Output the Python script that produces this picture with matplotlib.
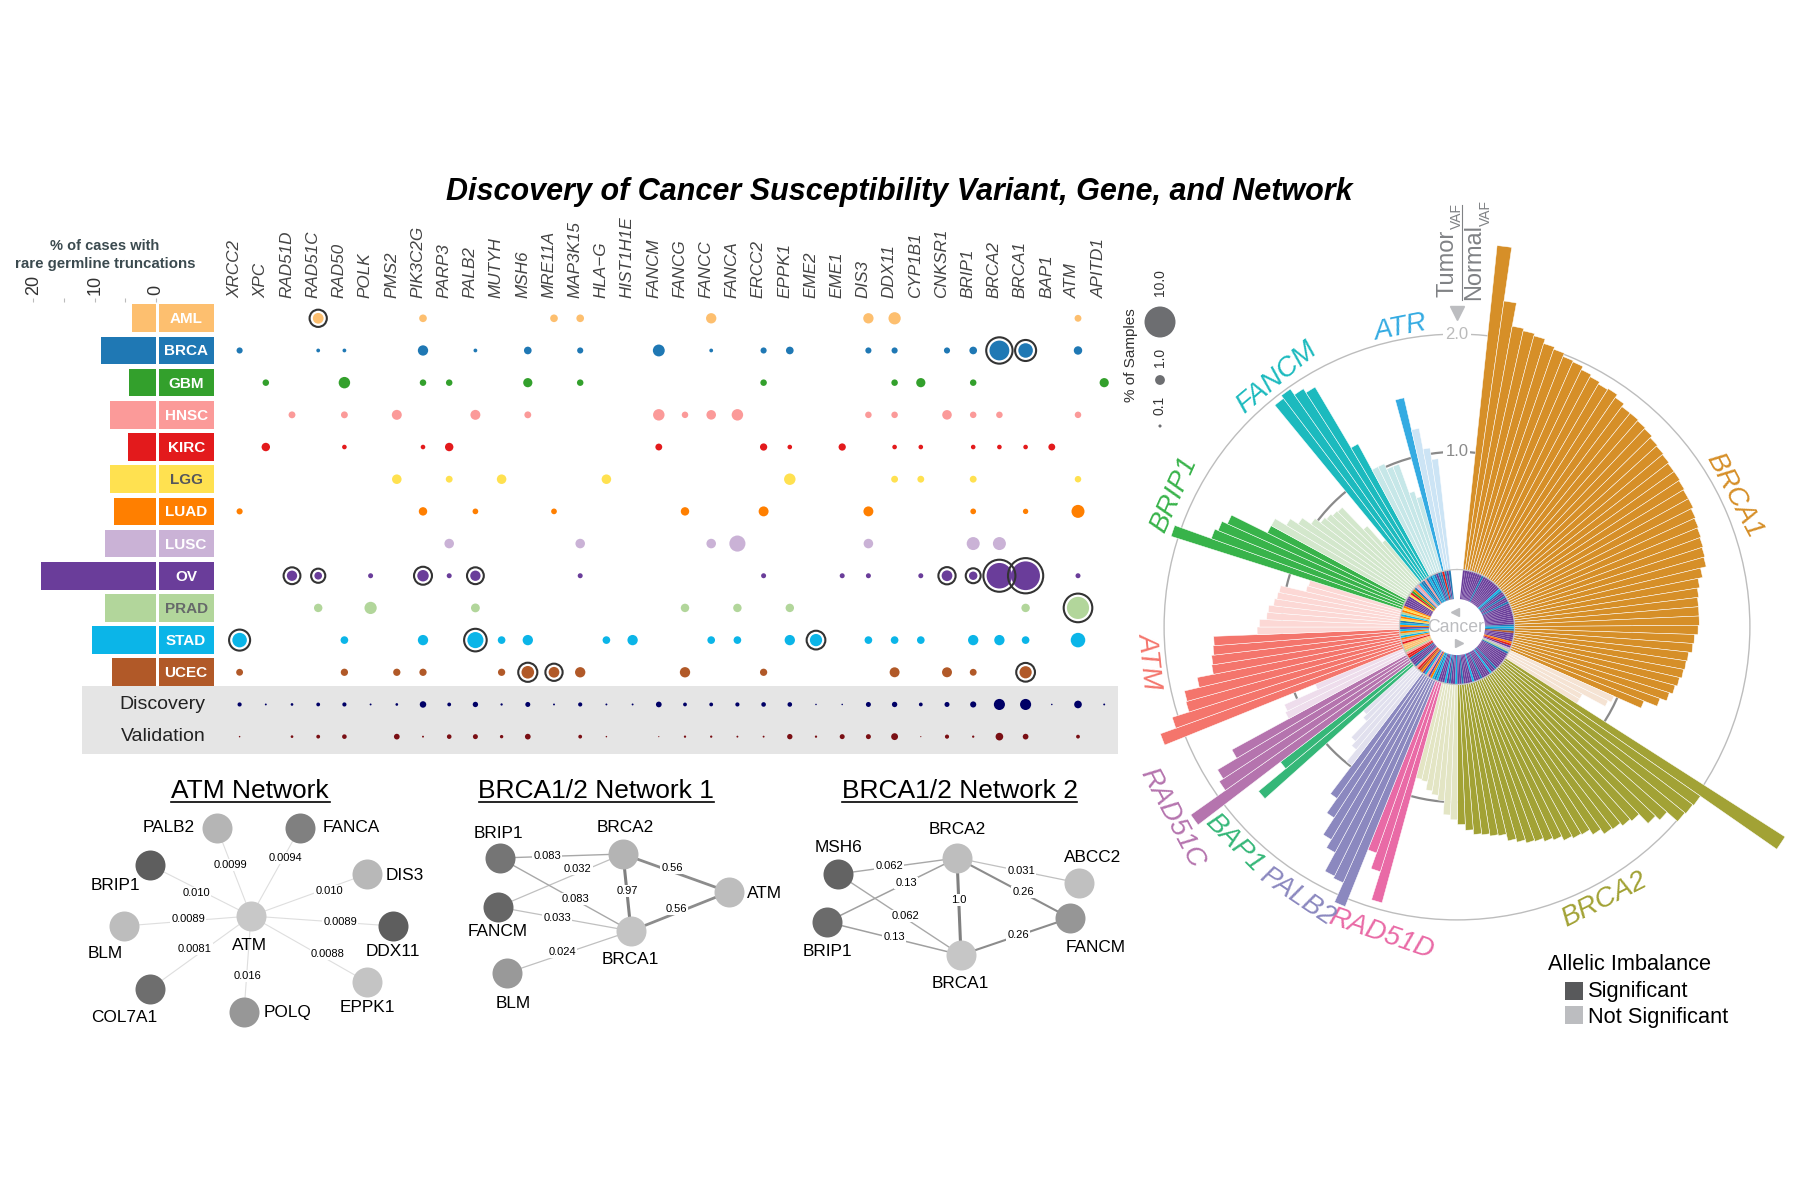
import numpy as np
import matplotlib
matplotlib.use('Agg')
import matplotlib.pyplot as plt

plt.rcParams['font.family'] = ['Liberation Sans', 'DejaVu Sans']

W = 1795; H = 1201

# ---------- data: cancer types ----------
cancers = ['AML', 'BRCA', 'GBM', 'HNSC', 'KIRC', 'LGG', 'LUAD', 'LUSC', 'OV', 'PRAD', 'STAD', 'UCEC']
truncations = [3.9, 8.9, 4.4, 7.5, 4.6, 7.5, 6.8, 8.3, 18.8, 8.3, 10.5, 7.2]
cancer_colors = ['#FDBF6F', '#1F78B4', '#33A02C', '#FB9A99', '#E31A1C', '#FFE150',
                 '#FF7F00', '#CAB2D6', '#6A3D9A', '#B2D69B', '#0BB5E8', '#B15928']
label_colors = ['white', 'white', 'white', 'white', 'white', '#55565C',
                'white', 'white', 'white', '#66696A', 'white', 'white']

genes = ['XRCC2', 'XPC', 'RAD51D', 'RAD51C', 'RAD50', 'POLK', 'PMS2', 'PIK3C2G', 'PARP3', 'PALB2',
         'MUTYH', 'MSH6', 'MRE11A', 'MAP3K15', 'HLA\u2212G', 'HIST1H1E', 'FANCM', 'FANCG', 'FANCC',
         'FANCA', 'ERCC2', 'EPPK1', 'EME2', 'EME1', 'DIS3', 'DDX11', 'CYP1B1', 'CNKSR1', 'BRIP1',
         'BRCA2', 'BRCA1', 'BAP1', 'ATM', 'APITD1']

# % of samples per gene (column index)
pct_aml = {3: 1.2, 7: .61, 12: .61, 13: .61, 18: 1.11, 24: 1.11, 25: 1.56, 32: .49}
pct_brca = {0: .39, 3: .15, 4: .15, 7: 1.11, 9: .15, 11: .61, 13: .39, 16: 1.47, 18: .15, 20: .39, 21: .61,
            24: .39, 25: .39, 27: .39, 28: .61, 29: 4.1, 30: 2.2, 32: .74}
pct_gbm = {1: .44, 4: 1.37, 7: .44, 8: .44, 11: .88, 13: .44, 20: .44, 25: .44, 26: .88, 28: .44, 33: .88}
pct_hnsc = {2: .49, 4: .49, 6: 1.03, 9: 1.03, 11: .49, 16: 1.37, 17: .44, 18: .95, 19: 1.37, 24: .44, 25: .44,
            27: .95, 28: .44, 29: .44, 32: .44}
pct_kirc = {1: .74, 4: .22, 7: .22, 8: .74, 16: .49, 20: .55, 21: .22, 23: .55, 25: .22, 26: .22, 28: .22,
            29: .22, 30: .22, 31: .49}
pct_lgg = {6: .95, 8: .49, 10: .95, 14: .95, 21: 1.37, 25: .49, 26: .49, 28: .49, 32: .44}
pct_luad = {0: .39, 7: .74, 9: .34, 12: .34, 17: .74, 20: 1.03, 24: 1.03, 28: .34, 30: .30, 32: 1.76}
pct_lusc = {8: .95, 13: .95, 18: .95, 19: 2.7, 24: .95, 28: 1.76, 29: 1.76}
pct_ov = {2: 1.11, 3: .61, 5: .26, 7: 1.37, 8: .26, 9: 1.11, 13: .26, 20: .26, 23: .26, 24: .26, 26: .26,
          27: 1.2, 28: .74, 29: 6.8, 30: 8.6, 32: .26}
pct_prad = {3: .74, 5: 1.56, 9: .81, 17: .74, 19: .74, 21: .74, 30: .74, 32: 5.1}
pct_stad = {0: 2.2, 4: .61, 7: 1.11, 9: 2.7, 10: .61, 11: 1.11, 14: .61, 15: 1.11, 18: .61, 19: .61, 21: 1.11,
            22: 1.56, 24: .61, 25: .61, 26: .61, 28: 1.11, 29: 1.11, 30: .61, 32: 2.2}
pct_ucec = {0: .49, 4: .55, 6: .55, 7: .55, 10: .55, 11: 1.66, 12: 1.2, 13: 1.11, 17: 1.11, 20: .55, 25: 1.03,
            27: 1.03, 28: .49, 30: 1.56}
pct_rows = [pct_aml, pct_brca, pct_gbm, pct_hnsc, pct_kirc, pct_lgg, pct_luad, pct_lusc, pct_ov, pct_prad,
            pct_stad, pct_ucec]

# columns that carry the black ring in each row
ringed = {'AML': [3], 'BRCA': [29, 30], 'OV': [2, 3, 7, 9, 27, 28, 29, 30], 'PRAD': [32],
          'STAD': [0, 9, 22], 'UCEC': [11, 12, 30]}

pct_discovery = [.18, .038, .075, .15, .18, .038, .075, .44, .15, .30, .055, .26, .038, .18, .038, .038, .34,
                 .15, .15, .18, .22, .22, .024, .024, .26, .30, .15, .26, .39, 1.28, 1.28, .024, .61, .038]
pct_validation = [.024, 0, .075, .15, .22, 0, .34, .038, .22, .26, .12, .34, 0, .15, .024, 0, .014, .055, .055,
                  .038, .038, .30, .055, .26, .26, .49, .014, .18, .055, .61, .34, 0, .15, 0]

# ---------- data: tumor/normal VAF ratio fan, clockwise from the top ----------
brca1_sig = [2.77, 2.31, 2.11, 2.09, 2.07, 2.03, 2.01, 1.98, 1.97, 1.94, 1.92, 1.90, 1.91, 1.88, 1.85, 1.85, 1.84,
             1.83, 1.81, 1.80, 1.79, 1.78, 1.78, 1.77, 1.76, 1.76, 1.74, 1.73, 1.72, 1.71, 1.70, 1.69, 1.64, 1.60,
             1.58, 1.57, 1.57, 1.57, 1.56, 1.53, 1.52, 1.49, 1.48, 1.47, 1.45, 1.43, 1.40, 1.34, 1.22]
brca1_ns = [.97, .94, .72, .72]
brca2_sig = [2.82, 2.03, 2.02, 2.01, 1.89, 1.84, 1.73, 1.71, 1.68, 1.67, 1.62, 1.57, 1.56, 1.54, 1.50, 1.48, 1.45,
             1.44, 1.41, 1.38, 1.32, 1.31, 1.29, 1.28, 1.24, 1.19]
brca2_ns = [1.15, 1.11, .99, .95, .92, .85, .84]
rad51d_sig = [1.94, 1.69, 1.55]
palb2_sig = [2.07, 1.89, 1.87, 1.69, 1.61, 1.44, 1.29]
palb2_ns = [.99, .86, .81, .62, .58]
bap1_sig = [1.70, 1.40]
rad51c_sig = [2.28, 1.92, 1.88, 1.69]
rad51c_ns = [1.14, 1.12, .81]
atm_sig = [2.19, 2.05, 1.90, 1.89, 1.76, 1.62, 1.61, 1.59, 1.58]
atm_ns = [1.21, 1.19, 1.13, 1.12, 1.08, 1.06, 1.05, .83, .82]
brip1_sig = [2.06, 1.73, 1.70, 1.65, 1.31]
brip1_ns = [1.31, 1.20, 1.12, 1.03, .97, .95, .93, .92, .66, .47]
fancm_sig = [1.95, 1.98, 1.92, 1.88, 1.28]
fancm_ns = [1.03, 1.03, .98, .98, .72, .66]
atr_sig = [1.51]
atr_ns = [1.23, 1.05, .95]

fan_values = [brca1_sig, brca1_ns, brca2_sig, brca2_ns, rad51d_sig, palb2_sig, palb2_ns, bap1_sig, rad51c_sig,
              rad51c_ns, atm_sig, atm_ns, brip1_sig, brip1_ns, fancm_sig, fancm_ns, atr_sig, atr_ns]
fan_colors = ['#D68F28', '#F5E3D3', '#A2A235', '#E3E5C4', '#E96AA6', '#8B88BF', '#E1E0EE', '#35B778', '#B574AE',
              '#EEDDEC', '#F4756C', '#FCD8D5', '#38B34A', '#D3E7CC', '#1CBABE', '#C6E7E8', '#34ABE2', '#CCE4F5']
# cancer of each sample in the inner ring, one letter per bar
ring_codes = ['OOOOOOOOOBOOOOOOOOOSBOOBOOBOOOOOOOOOOBSBUOOOOLKOC', 'PBOO',
              'OOOOOOBOOSOOOOBOOOSOOOOBOO', 'SOOBOSO', 'OOS', 'BSLOHSO', 'LUKHB', 'OO', 'OBKK', 'HPA',
              'AAKHLSPLS', 'OLSBYLSPL', 'YLOOO', 'OOYKGLBCHS', 'BBHBS', 'BSBOBB', 'K', 'BOB']
ring_letters = {'A': 'AML', 'B': 'BRCA', 'G': 'GBM', 'H': 'HNSC', 'K': 'KIRC', 'Y': 'LGG', 'L': 'LUAD',
                'C': 'LUSC', 'O': 'OV', 'P': 'PRAD', 'S': 'STAD', 'U': 'UCEC'}

# gene label around the fan: name, colour, x, y, rotation
fan_labels = [('BRCA1', '#D68F28', 1734, 495, -62), ('BRCA2', '#A2A235', 1604, 900, 27),
              ('RAD51D', '#E96AA6', 1381, 934, -19), ('PALB2', '#8B88BF', 1297, 897, -34),
              ('BAP1', '#35B778', 1234, 843, -45), ('RAD51C', '#B574AE', 1172, 818, -62),
              ('ATM', '#F4756C', 1149, 660, -84), ('BRIP1', '#38B34A', 1174, 495, 66),
              ('FANCM', '#1CBABE', 1277, 378, 40), ('ATR', '#34ABE2', 1400, 328, 11)]

# ---------- data: networks ----------
atm_nodes = {'PALB2': (217, 828, '#B5B5B5', 169, 828), 'FANCA': (300, 828, '#808080', 351, 828),
             'BRIP1': (150, 865, '#5E5E5E', 115, 886), 'DIS3': (367, 874, '#B8B8B8', 405, 875),
             'BLM': (124, 926, '#BDBDBD', 105, 954), 'ATM': (251, 916, '#C8C8C8', 249, 945),
             'DDX11': (393, 926, '#5E5E5E', 393, 952), 'COL7A1': (150, 989, '#6E6E6E', 124, 1017),
             'POLQ': (244, 1012, '#979797', 288, 1013), 'EPPK1': (367, 982, '#C4C4C4', 367, 1008)}
atm_edges = [('PALB2', 'ATM', '0.0099', 230, 865), ('FANCA', 'ATM', '0.0094', 285, 858),
             ('BRIP1', 'ATM', '0.010', 196, 893), ('DIS3', 'ATM', '0.010', 329, 891),
             ('BLM', 'ATM', '0.0089', 188, 919), ('DDX11', 'ATM', '0.0089', 340, 922),
             ('COL7A1', 'ATM', '0.0081', 195, 949), ('EPPK1', 'ATM', '0.0088', 328, 954),
             ('POLQ', 'ATM', '0.016', 248, 976)]
net1_nodes = {'BRIP1': (500, 858, '#757575', 498, 833), 'FANCM': (498, 907, '#666666', 498, 932),
              'BLM': (507, 973, '#999999', 513, 1003), 'BRCA2': (623, 854, '#B4B4B4', 625, 827),
              'ATM': (729, 892, '#BDBDBD', 764, 894), 'BRCA1': (631, 931, '#C4C4C4', 630, 960)}
net1_edges = [('BRIP1', 'BRCA2', '0.083', 547, 856), ('FANCM', 'BRCA2', '0.032', 578, 869),
              ('BRIP1', 'BRCA1', '0.083', 575, 899), ('FANCM', 'BRCA1', '0.033', 557, 918),
              ('BLM', 'BRCA1', '0.024', 562, 952), ('BRCA2', 'BRCA1', '0.97', 627, 891),
              ('BRCA2', 'ATM', '0.56', 672, 868), ('BRCA1', 'ATM', '0.56', 676, 909)]
net2_nodes = {'MSH6': (838, 874, '#636363', 838, 847), 'BRCA2': (957, 858, '#BEBEBE', 957, 830),
              'ABCC2': (1079, 883, '#C0C0C0', 1093, 858), 'BRIP1': (827, 922, '#6B6B6B', 827, 952),
              'FANCM': (1070, 918, '#969696', 1096, 948), 'BRCA1': (961, 955, '#C6C6C6', 960, 983)}
net2_edges = [('MSH6', 'BRCA2', '0.062', 889, 866), ('BRIP1', 'BRCA2', '0.13', 906, 883),
              ('MSH6', 'BRCA1', '0.062', 905, 916), ('BRIP1', 'BRCA1', '0.13', 894, 937),
              ('BRCA2', 'BRCA1', '1.0', 959, 900), ('BRCA2', 'ABCC2', '0.031', 1021, 871),
              ('BRCA2', 'FANCM', '0.26', 1023, 892), ('BRCA1', 'FANCM', '0.26', 1018, 935)]


def px_axes(left, top, right, bottom, **kw):
	return fig.add_axes([left / W, 1 - bottom / H, (right - left) / W, (bottom - top) / H], **kw)


def dot_size(pct):
	# diameter is 9.8 px for 1 %, area grows with the percentage
	return (9.8 * 0.72) ** 2 * np.asarray(pct)


fig = plt.figure(figsize=(W / 100, H / 100), dpi=100)

# ---------- fan chart ----------
cx = 1457; cy = 627; unit = 117.7
r_zero = 57.5 / unit
r_max = 3.0
R = (r_zero + r_max) * unit
polar = px_axes(cx - R, cy - R, cx + R, cy + R, projection='polar')
polar.patch.set_alpha(0)
polar.set_theta_zero_location('N')
polar.set_theta_direction(-1)
polar.set_ylim(-r_zero, r_max)
polar.spines['polar'].set_visible(False)
polar.set_xticks([])
polar.set_yticks([1, 2])
polar.set_yticklabels([])
polar.tick_params(axis='y', length=0)
polar.set_axisbelow(True)
polar.yaxis.grid(True)
polar.yaxis.get_gridlines()[0].set(color='#8A8A8A', linewidth=1.6)
polar.yaxis.get_gridlines()[1].set(color='#BDBDBD', linewidth=1.0)

step = np.deg2rad(2.2)
start = np.deg2rad(6.0)
i = 0
for values, color, codes in zip(fan_values, fan_colors, ring_codes):
	n = len(values)
	theta = start + step * (i + np.arange(n) + 0.5)
	polar.bar(theta, values, width=step, color=color, edgecolor='white', linewidth=0.35, zorder=3)
	codes = (codes + 'O' * n)[:n]
	ring = [cancer_colors[cancers.index(ring_letters[c])] for c in codes]
	polar.bar(theta, [0.25] * n, width=step, bottom=-0.25, color=ring, edgecolor='#FFFFFF33', linewidth=0.25, zorder=3)
	i += n
ring_theta = np.linspace(0, 2 * np.pi, 361)
polar.plot(ring_theta, np.zeros(361), color='#C4C4C4', linewidth=0.9, zorder=4)
polar.text(0, 2, '2.0', color='#BBBBBB', fontsize=12, ha='center', va='center', zorder=5,
           bbox=dict(facecolor='white', edgecolor='none', pad=1.5))
polar.text(0, 1, '1.0', color='#8A8A8A', fontsize=12, ha='center', va='center', zorder=5,
           bbox=dict(facecolor='white', edgecolor='none', pad=1.5))

# ---------- bars and cancer boxes ----------
row_top = 318.3; row_h = 32.18
mat_top = 302; mat_bottom = 754.3
ylim = ((mat_bottom - row_top) / row_h, (mat_top - row_top) / row_h)
ypos = np.arange(len(cancers))

bar_ax = px_axes(33.3, mat_top, 213.5, mat_bottom)
bar_ax.patch.set_alpha(0)
bar_ax.set_xlim(20, -9.38)
bar_ax.set_ylim(*ylim)
bar_ax.barh(ypos, truncations, height=0.86, color=cancer_colors)
bar_ax.barh(ypos, [8.92] * len(cancers), left=-9.38, height=0.86, color=cancer_colors)
for y, name, c in zip(ypos, cancers, label_colors):
	bar_ax.text(-4.92, y + 0.03, name, color=c, fontsize=11, fontweight='bold', ha='center', va='center')
for s in bar_ax.spines.values():
	s.set_visible(False)
bar_ax.xaxis.tick_top()
bar_ax.set_xticks([0, 5, 10, 15, 20])
bar_ax.set_xticklabels(['0', '', '10', '', '20'], rotation=90, fontsize=13, color='#333333')
bar_ax.tick_params(axis='x', length=3, width=0.8, color='#BBBBBB', pad=2)
bar_ax.set_yticks([])

# ---------- dot matrix ----------
col0 = 239.6; col_w = 26.2
mat = px_axes(82, mat_top, 1117.7, mat_bottom)
mat.patch.set_alpha(0)
mat.set_xlim((82 - col0) / col_w, (1117.7 - col0) / col_w)
mat.set_ylim(*ylim)
mat.axis('off')
mat.axhspan(11.43, ylim[0], color='#E5E5E5', linewidth=0, zorder=0)

for y, (row, name, color) in enumerate(zip(pct_rows, cancers, cancer_colors)):
	cols = list(row.keys())
	pcts = list(row.values())
	mat.scatter(cols, [y] * len(cols), s=dot_size(pcts), color=color, linewidths=0, zorder=3, clip_on=False)
	for c in ringed.get(name, []):
		d = 9.8 * np.sqrt(row[c]) + 6.5
		mat.scatter([c], [y], s=(d * 0.72) ** 2, facecolor='none', edgecolor='#333333', linewidths=1.5, zorder=4,
		            clip_on=False)

cols = np.arange(len(genes))
mat.scatter(cols, [12] * len(cols), s=dot_size(pct_discovery), color='#000066', linewidths=0, zorder=3)
mat.scatter(cols, [13] * len(cols), s=dot_size(pct_validation), color='#7A0F14', linewidths=0, zorder=3)
mat.text(-1.3, 12, 'Discovery', fontsize=14, color='#222222', ha='right', va='center')
mat.text(-1.3, 13, 'Validation', fontsize=14, color='#222222', ha='right', va='center')
for c, g in zip(cols, genes):
	mat.text(c - 0.2, -0.63, g, rotation=90, style='italic', fontsize=12.3, color='#444444', ha='center', va='bottom')

# ---------- page layer: text, size legend, networks ----------
page = px_axes(0, 0, W, H)
page.patch.set_alpha(0)
page.set_xlim(0, W)
page.set_ylim(H, 0)
page.axis('off')

page.text(899, 192, 'Discovery of Cancer Susceptibility Variant, Gene, and Network', fontsize=22,
          fontweight='bold', style='italic', ha='center', va='center')
page.text(105, 246, '% of cases with', fontsize=10.5, fontweight='bold', color='#3B4A4F', ha='center', va='center')
page.text(105, 264, 'rare germline truncations', fontsize=10.8, fontweight='bold', color='#3B4A4F',
          ha='center', va='center')

# size legend
legend_pct = [10.0, 1.0, 0.1]
page.scatter([1160] * 3, [322, 380, 426], s=dot_size(legend_pct), color='#6D6E71', linewidths=0)
for v, y in zip(legend_pct, [283, 357, 405]):
	page.text(1160, y, '%.1f' % v, rotation=90, fontsize=10, color='#333333', ha='center', va='center')
page.text(1131, 355, '% of Samples', rotation=90, fontsize=11, color='#333333', ha='center', va='center')

# fan axis title
page.text(1447, 263, 'Tumor', rotation=90, fontsize=17, color='#808285', ha='center', va='center')
page.text(1457, 216, 'VAF', rotation=90, fontsize=10, color='#808285', ha='center', va='center')
page.text(1474, 262, 'Normal', rotation=90, fontsize=17, color='#808285', ha='center', va='center')
page.text(1486, 213, 'VAF', rotation=90, fontsize=10, color='#808285', ha='center', va='center')
page.plot([1462, 1462], [205, 300], color='#808285', linewidth=0.8)
page.plot([1456.5], [313], marker='v', markersize=10, color='#BCBDC0', linestyle='none')
page.plot([1454.7], [611.7], marker='<', markersize=6, color='#BCBDC0', linestyle='none')
page.plot([1459], [643], marker='>', markersize=6, color='#BCBDC0', linestyle='none')
page.text(1456, 628, 'Cancer', fontsize=12.7, color='#BCBDC0', ha='center', va='center')

for name, color, x, y, rot in fan_labels:
	page.text(x, y, name, color=color, fontsize=20, style='italic', rotation=rot, rotation_mode='anchor',
	          ha='center', va='center')

# allelic imbalance legend
page.text(1548, 965, 'Allelic Imbalance', fontsize=15.7, ha='left', va='center')
page.text(1588, 991, 'Significant', fontsize=15.7, ha='left', va='center')
page.text(1588, 1017, 'Not Significant', fontsize=15.7, ha='left', va='center')
page.scatter([1574], [990.5], s=17.5 ** 2 * 0.72 ** 2, marker='s', color='#58595B', linewidths=0)
page.scatter([1574], [1015], s=17.5 ** 2 * 0.72 ** 2, marker='s', color='#BCBDC0', linewidths=0)


def edge_style(label):
	w = float(label)
	if w >= 0.9:
		return '#808080', 2.2
	if w >= 0.5:
		return '#8C8C8C', 2.0
	if w >= 0.2:
		return '#8C8C8C', 1.5
	if w >= 0.1:
		return '#A0A0A0', 1.1
	if w >= 0.05:
		return '#A8A8A8', 1.0
	if w >= 0.02:
		return '#C0C0C0', 0.9
	return '#DEDEDE', 0.8


def draw_network(title, tx, x0, x1, nodes, edges):
	page.text(tx, 791, title, fontsize=19, ha='center', va='center')
	page.plot([x0, x1], [802, 802], color='black', linewidth=1.2)
	for a, b, label, lx, ly in edges:
		color, lw = edge_style(label)
		page.plot([nodes[a][0], nodes[b][0]], [nodes[a][1], nodes[b][1]], color=color, linewidth=lw, zorder=2)
		page.text(lx, ly, label, fontsize=8, ha='center', va='center', zorder=3,
		          bbox=dict(facecolor='white', edgecolor='none', pad=1))
	for name, (x, y, color, lx, ly) in nodes.items():
		page.scatter([x], [y], s=(30 * 0.72) ** 2, color=color, linewidths=0, zorder=4)
		page.text(lx, ly, name, fontsize=12.4, ha='center', va='center', zorder=5)


draw_network('ATM Network', 250, 171, 330, atm_nodes, atm_edges)
draw_network('BRCA1/2 Network 1', 596, 479, 714, net1_nodes, net1_edges)
draw_network('BRCA1/2 Network 2', 960, 842, 1077, net2_nodes, net2_edges)

fig.savefig('out.png', dpi=100)
